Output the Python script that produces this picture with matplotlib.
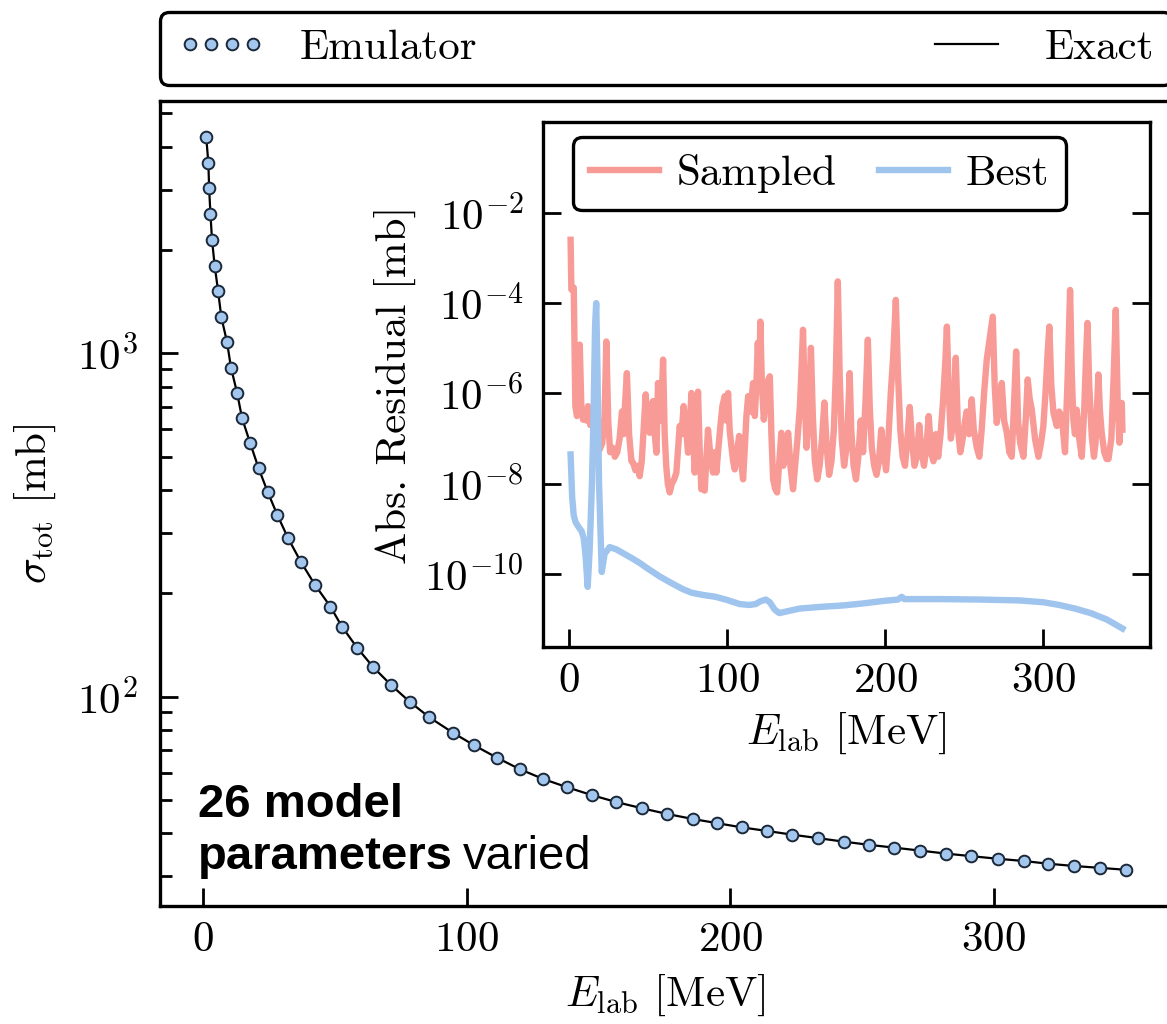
import matplotlib
matplotlib.use("Agg")
import matplotlib.pyplot as plt
from matplotlib.ticker import FixedLocator, NullLocator, LogFormatterSciNotation
import numpy as np

# ---------------- data ----------------
# main panel: emulator markers / exact curve (E_lab [MeV], sigma_tot [mb])
E_main = [1.1, 1.9, 2.2, 2.7, 3.3, 4.3, 5.6, 6.8, 9.0, 10.5, 12.8, 14.7, 17.8, 21.0,
          24.4, 28.1, 32.2, 37.0, 42.3, 48.2, 52.6, 58.3, 64.4, 71.3, 78.3, 85.8,
          94.7, 102.8, 111.4, 120.0, 129.1, 138.2, 147.6, 156.7, 166.4, 176.1,
          185.8, 194.9, 204.3, 214.0, 223.6, 233.3, 243.0, 252.7, 262.3, 272.0,
          281.7, 291.3, 301.5, 311.3, 320.6, 330.5, 340.4, 350.0]
sigma_main = [4257, 3591, 3024, 2541, 2138, 1800, 1519, 1278, 1077, 908, 768, 647,
              547, 462, 395, 338, 289, 247, 212, 183, 160, 139, 122, 108, 96.6,
              87.0, 78.5, 72.1, 66.4, 61.5, 57.5, 54.4, 51.6, 49.3, 47.3, 45.5,
              44.0, 42.8, 41.6, 40.6, 39.6, 38.7, 37.8, 37.0, 36.3, 35.6, 34.9,
              34.3, 33.7, 33.2, 32.6, 32.1, 31.7, 31.3]

# inset: absolute residual of sampled emulator (log10 [mb])
E_sampled = [
    1.0, 1.5, 3.0, 4.0, 5.0, 6.0, 6.8, 7.8, 8.9, 10.0,
    11.0, 12.0, 13.5, 15.0, 16.5, 18.0, 19.4, 21.0, 22.5, 23.6,
    24.8, 26.0, 27.5, 29.0, 30.5, 32.0, 33.5, 34.5, 35.5, 36.6,
    38.0, 39.5, 40.5, 42.0, 43.5, 44.7, 46.0, 47.5, 48.5, 49.8,
    51.0, 52.0, 53.1, 54.2, 55.3, 56.3, 57.5, 58.5, 59.5, 60.5,
    61.5, 62.5, 63.7, 65.0, 66.5, 67.9, 69.0, 70.0, 71.2, 72.5,
    73.8, 75.3, 76.3, 77.4, 78.5, 79.5, 80.5, 81.6, 82.6, 83.7,
    84.8, 85.8, 86.8, 87.9, 89.5, 91.1, 92.2, 93.2, 94.5, 95.8,
    97.0, 98.5, 99.5, 100.6, 101.6, 102.7, 103.8, 104.8, 106.2, 107.6,
    108.8, 110.1, 111.2, 112.2, 113.3, 114.8, 116.4, 117.5, 118.5, 119.4,
    120.3, 121.0, 122.0, 123.2, 124.8, 126.0, 127.0, 128.0, 129.1, 130.3,
    131.6, 133.0, 134.3, 135.5, 137.0, 138.6, 140.0, 141.7, 143.0, 144.5,
    146.0, 147.0, 148.0, 149.0, 150.2, 151.5, 153.0, 154.2, 155.5, 157.0,
    158.5, 160.0, 161.5, 163.0, 164.5, 166.0, 167.5, 168.8, 170.0, 171.2,
    172.5, 174.0, 175.5, 176.5, 177.5, 178.5, 180.0, 181.5, 183.0, 184.5,
    186.0, 187.5, 189.0, 190.2, 191.5, 193.0, 194.5, 196.0, 197.5, 199.0,
    200.5, 202.0, 203.5, 205.0, 206.7, 208.0, 209.5, 211.0, 212.5, 214.0,
    215.5, 217.0, 218.5, 220.0, 221.5, 223.0, 224.5, 226.0, 227.5, 229.0,
    230.5, 232.0, 233.5, 235.0, 236.5, 238.0, 239.0, 240.0, 241.5, 243.0,
    244.6, 246.0, 247.5, 249.0, 250.5, 251.5, 253.0, 254.7, 256.0, 257.9,
    259.5, 261.0, 262.5, 264.2, 266.0, 268.0, 269.2, 270.5, 272.0, 273.7,
    275.2, 276.9, 278.5, 280.0, 281.5, 282.8, 284.0, 285.3, 287.4, 289.0,
    290.1, 291.3, 292.7, 294.8, 296.9, 298.5, 300.0, 301.5, 302.7, 303.8,
    305.0, 306.4, 308.5, 310.0, 311.6, 313.7, 315.5, 316.9, 318.0, 319.0,
    320.0, 321.1, 322.7, 324.3, 325.8, 327.0, 327.9, 329.0, 330.6, 332.0,
    333.0, 334.8, 335.8, 336.9, 338.5, 340.0, 341.2, 343.0, 344.5, 345.8,
    347.0, 348.1, 349.0, 349.6, 350.0]
logres_sampled = [
    -2.60, -3.70, -3.66, -6.28, -6.50, -6.40, -4.92, -6.30, -6.58, -6.40,
    -6.60, -6.28, -6.70, -6.55, -7.00, -7.20, -7.24, -7.10, -6.50, -4.85,
    -6.60, -7.30, -7.20, -7.40, -7.30, -7.00, -6.40, -6.90, -6.20, -5.55,
    -6.90, -7.50, -7.53, -7.70, -7.60, -7.83, -7.50, -6.60, -6.02, -6.70,
    -6.87, -6.50, -6.17, -6.90, -7.31, -5.77, -6.60, -6.30, -5.25, -6.90,
    -7.61, -8.00, -8.19, -8.00, -7.90, -7.75, -7.20, -6.72, -6.90, -6.28,
    -6.70, -7.31, -6.80, -5.99, -6.90, -7.75, -7.00, -5.96, -7.20, -8.12,
    -8.00, -8.15, -7.50, -6.80, -7.40, -7.75, -7.30, -7.75, -7.20, -6.70,
    -6.28, -6.06, -6.60, -5.99, -6.80, -7.17, -7.50, -7.68, -7.30, -6.94,
    -7.50, -7.90, -7.20, -6.50, -6.06, -6.40, -5.77, -6.50, -5.80, -4.88,
    -5.60, -4.41, -5.80, -6.58, -6.00, -5.70, -5.62, -6.90, -7.90, -8.10,
    -8.19, -7.50, -6.87, -7.60, -7.20, -6.87, -7.60, -8.12, -7.60, -7.00,
    -6.30, -5.50, -4.59, -6.00, -7.20, -6.50, -4.99, -6.50, -7.50, -7.90,
    -7.60, -7.00, -6.20, -7.20, -7.80, -7.50, -6.80, -5.50, -3.52, -5.60,
    -7.00, -7.60, -7.20, -6.50, -5.55, -6.80, -7.60, -7.90, -7.40, -6.60,
    -7.30, -6.20, -4.81, -6.30, -7.20, -7.60, -7.80, -7.50, -6.80, -7.30,
    -7.70, -7.00, -6.00, -5.20, -3.93, -5.50, -6.80, -7.40, -7.60, -7.00,
    -6.30, -7.10, -7.60, -7.40, -6.70, -7.30, -7.60, -7.20, -6.50, -7.30,
    -7.50, -6.90, -7.40, -6.90, -6.20, -5.30, -4.52, -5.80, -7.00, -6.60,
    -5.21, -6.80, -7.30, -7.00, -6.60, -6.40, -6.90, -6.13, -6.80, -7.20,
    -7.40, -6.80, -6.00, -5.25, -4.80, -4.30, -5.80, -6.65, -6.30, -5.77,
    -6.60, -6.87, -7.30, -7.40, -6.20, -5.07, -6.60, -7.09, -7.40, -6.50,
    -5.69, -6.10, -6.36, -7.02, -7.40, -7.10, -6.72, -5.90, -5.10, -4.52,
    -5.80, -6.43, -6.72, -6.40, -6.50, -7.30, -5.50, -3.71, -5.60, -6.58,
    -6.90, -6.36, -7.00, -7.40, -6.40, -5.20, -4.44, -5.80, -6.94, -7.40,
    -7.10, -5.58, -6.40, -6.87, -7.30, -7.45, -7.45, -7.00, -5.60, -4.15,
    -6.20, -7.09, -6.50, -6.21, -6.80]

# inset: absolute residual of best emulator (log10 [mb])
E_best = [1.0, 2.0, 3.0, 4.2, 6.0, 8.0, 9.3, 10.5, 11.8, 13.0, 14.5, 15.5, 16.5,
          17.2, 18.0, 19.0, 20.7, 22.5, 25.7, 30.0, 35.0, 40.0, 44.7, 50.0, 57.4,
          65.0, 72.0, 77.6, 85.0, 92.8, 100.0, 108.0, 114.0, 118.0, 121.0, 124.4,
          127.0, 130.0, 133.0, 138.0, 145.8, 160.0, 173.6, 185.0, 199.0, 208.0,
          210.4, 212.0, 220.0, 234.5, 260.0, 285.0, 300.0, 310.0, 320.0, 330.0,
          340.0, 350.0]
logres_best = [-7.35, -8.3, -8.7, -8.85, -8.95, -9.05, -9.2, -9.6, -10.28, -9.5,
               -8.0, -6.5, -4.5, -4.0, -5.5, -8.0, -9.95, -9.55, -9.40, -9.45,
               -9.55, -9.65, -9.75, -9.88, -10.05, -10.2, -10.33, -10.41, -10.46,
               -10.5, -10.57, -10.66, -10.68, -10.66, -10.6, -10.56, -10.62, -10.78,
               -10.86, -10.82, -10.76, -10.72, -10.69, -10.65, -10.59, -10.56, -10.5,
               -10.55, -10.55, -10.55, -10.56, -10.58, -10.62, -10.68, -10.76,
               -10.86, -11.0, -11.2]

# ---------------- style ----------------
plt.rcParams.update({
    "font.family": "serif",
    "font.serif": ["cmr10"],
    "mathtext.fontset": "cm",
    "axes.formatter.use_mathtext": True,
    "axes.unicode_minus": True,
    "font.size": 31,
})

FS = 31
C_MARK_FACE = "#a3c6ee"
C_MARK_EDGE = "#1b2838"
C_SAMPLED = "#f89b96"
C_BEST = "#9fc4ee"
SPINE_W = 2.4

W, H = 1167, 1024
fig = plt.figure(figsize=(W / 100, H / 100), dpi=100)

def px_axes(left, right, top, bottom):
    return [left / W, (H - bottom) / H, (right - left) / W, (bottom - top) / H]

# ---------------- main axes ----------------
ax = fig.add_axes(px_axes(160, 1171.5, 100.7, 906))
ax.plot(E_main, sigma_main, "-", color="k", lw=1.6, label="Exact", zorder=2)
ax.plot(E_main, sigma_main, "o", ls="none", ms=8.4, mfc=C_MARK_FACE, mec=C_MARK_EDGE,
        mew=1.4, label="Emulator", zorder=3)
ax.set_yscale("log")
ax.set_xlim(-16.45, 367.45)
ax.set_ylim(10 ** 1.39, 10 ** 3.736)
ax.set_xticks([0, 100, 200, 300])
ax.xaxis.set_minor_locator(NullLocator())
ax.tick_params(which="both", direction="in", top=False, right=False, width=2.0)
ax.tick_params(which="major", length=13)
ax.tick_params(which="minor", length=8.5)
ax.tick_params(axis="x", pad=11)
ax.tick_params(axis="y", pad=16)
for s in ax.spines.values():
    s.set_linewidth(SPINE_W)
ax.set_xlabel(r"$E_{\mathrm{lab}}$ [MeV]", fontsize=FS, labelpad=10)
ax.set_ylabel(r"$\sigma_{\mathrm{tot}}$ [mb]", fontsize=FS, labelpad=14)

h, l = ax.get_legend_handles_labels()
leg = ax.legend([h[1], h[0]], [l[1], l[0]], bbox_to_anchor=(0.0, 1.02, 1.0, 0.102),
                loc="lower left", ncol=2, mode="expand", borderaxespad=0.0,
                numpoints=4, handlelength=2.05, fontsize=FS, frameon=True,
                fancybox=True, framealpha=1.0, edgecolor="k")
leg.get_frame().set_linewidth(SPINE_W)

# annotation
t1 = fig.text(198 / W, 1 - 817 / H, "26 model", fontsize=34, fontweight="bold",
              family="Liberation Sans", ha="left", va="baseline")
t2 = fig.text(198 / W, 1 - 869 / H, "parameters", fontsize=34, fontweight="bold",
              family="Liberation Sans", ha="left", va="baseline")
fig.canvas.draw()
bb = t2.get_window_extent()
fig.text((bb.x1 + 10) / W, 1 - 869 / H, "varied", fontsize=34, fontweight="normal",
         family="Liberation Sans", ha="left", va="baseline")

# ---------------- inset ----------------
axin = fig.add_axes(px_axes(543, 1150, 122.3, 647))
axin.plot(E_sampled, 10 ** np.array(logres_sampled), color=C_SAMPLED, lw=4.6,
          label="Sampled")
axin.plot(E_best, 10 ** np.array(logres_best), color=C_BEST, lw=4.6, label="Best")
axin.set_yscale("log")
axin.set_xlim(-16.45, 367.45)
axin.set_ylim(10 ** -11.61, 1.0)
axin.set_xticks([0, 100, 200, 300])
axin.yaxis.set_major_locator(FixedLocator([1e-10, 1e-8, 1e-6, 1e-4, 1e-2]))
axin.yaxis.set_major_formatter(LogFormatterSciNotation())
axin.yaxis.set_minor_locator(NullLocator())
axin.xaxis.set_minor_locator(NullLocator())
axin.tick_params(which="both", direction="in", top=False, right=True, width=2.0,
                 length=13)
axin.tick_params(axis="x", pad=11)
axin.tick_params(axis="y", pad=14)
for s in axin.spines.values():
    s.set_linewidth(SPINE_W)
axin.set_xlabel(r"$E_{\mathrm{lab}}$ [MeV]", fontsize=FS, labelpad=8)
axin.set_ylabel("Abs. Residual [mb]", fontsize=FS, labelpad=6)
leg2 = axin.legend(loc="upper left", bbox_to_anchor=(30 / 607, 1 - 14.7 / 524.7),
                   borderaxespad=0.0, ncol=2, handlelength=1.6, handletextpad=0.4,
                   columnspacing=1.0, fontsize=FS, frameon=True, fancybox=True,
                   framealpha=1.0, edgecolor="k")
leg2.get_frame().set_linewidth(SPINE_W)

fig.savefig("out.png", dpi=100)
